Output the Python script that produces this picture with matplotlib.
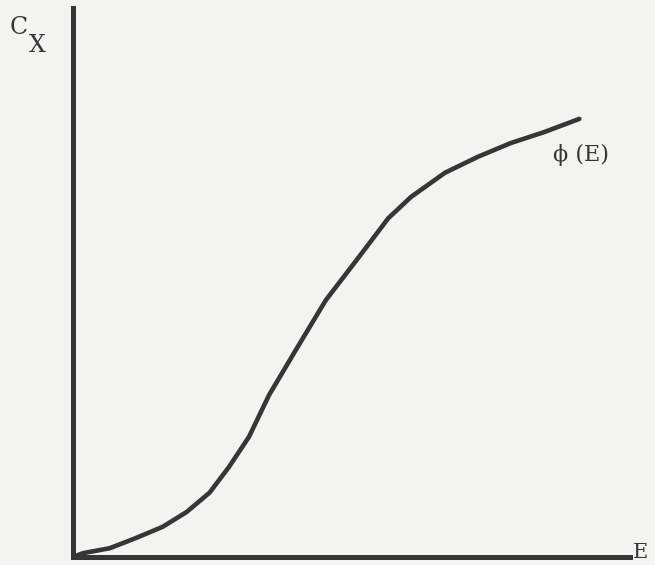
import numpy as np
import matplotlib.pyplot as plt

# response curve (arbitrary units)
energy = [0.05, 0.18, 0.66, 1.14, 1.61, 2.04, 2.45, 2.80, 3.16, 3.52,
          4.00, 4.54, 5.13, 5.66, 6.07, 6.68, 7.27, 7.86, 8.46, 9.09]
conc = [0.02, 0.07, 0.16, 0.35, 0.55, 0.82, 1.17, 1.64, 2.19, 2.95,
        3.77, 4.68, 5.46, 6.17, 6.56, 7.00, 7.29, 7.54, 7.74, 7.98]

W, H = 655, 565
bg = '#f3f3f1'
ink = '#363636'
font = 'DejaVu Serif'

fig = plt.figure(figsize=(W / 100, H / 100), dpi=100, facecolor=bg)
ax = fig.add_axes([73 / W, (H - 557) / H, (630 - 73) / W, (557 - 8) / H])
ax.set_facecolor(bg)
ax.set_xlim(0, 10)
ax.set_ylim(0, 10)

ax.plot(energy, conc, color=ink, lw=3.3, solid_capstyle='round', solid_joinstyle='round')

for side in ['top', 'right']:
    ax.spines[side].set_visible(False)
for side in ['left', 'bottom']:
    ax.spines[side].set_color(ink)
    ax.spines[side].set_linewidth(3.6)
ax.set_xticks([])
ax.set_yticks([])

fig.text(553 / W, 1 - 155 / H, '\u03d5 (E)', fontsize=16, family=font, color=ink,
         ha='left', va='center')
fig.text(633 / W, 1 - 553 / H, 'E', fontsize=15, family=font, color=ink, ha='left', va='center')
fig.text(10 / W, 1 - 27 / H, 'C', fontsize=17, family=font, color=ink, ha='left', va='center')
fig.text(29 / W, 1 - 46 / H, 'X', fontsize=17, family=font, color=ink, ha='left', va='center')

fig.savefig('out.png', dpi=100, facecolor=bg)
